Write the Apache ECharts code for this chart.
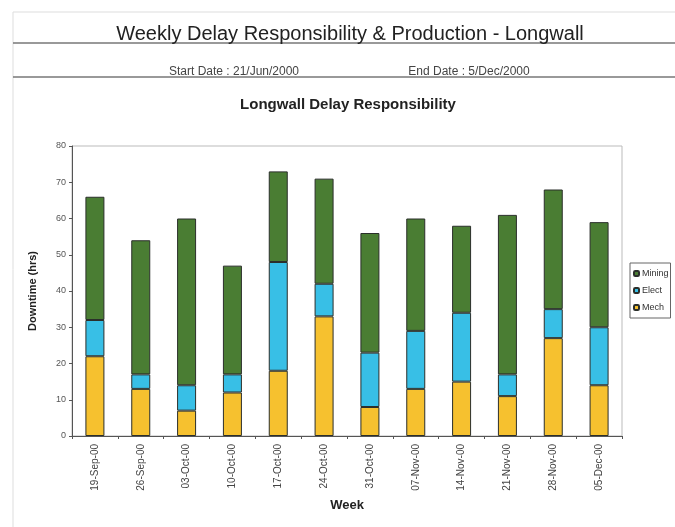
<!DOCTYPE html>
<html>
<head>
<meta charset="utf-8">
<script src="https://cdn.jsdelivr.net/npm/echarts@6/dist/echarts.min.js"></script>
<style>html,body{margin:0;padding:0;background:#fff}#c{width:675px;height:527px}</style>
</head>
<body>
<div id="c"></div>
<script>
const weeks = ['19-Sep-00','26-Sep-00','03-Oct-00','10-Oct-00','17-Oct-00','24-Oct-00','31-Oct-00','07-Nov-00','14-Nov-00','21-Nov-00','28-Nov-00','05-Dec-00'];
const mech = [22, 13, 7, 12, 18, 33, 8, 13, 15, 11, 27, 14];
const elect = [10, 4, 7, 5, 30, 9, 15, 16, 19, 6, 8, 16];
const mining = [34, 37, 46, 30, 25, 29, 33, 31, 24, 44, 33, 29];
const yTicks = [0, 10, 20, 30, 40, 50, 60, 70, 80];

const font = 'Liberation Sans, Arial, sans-serif';
const chart = echarts.init(document.getElementById('c'), null, {renderer: 'canvas'});
const barBorder = {borderColor: '#2b2f2b', borderWidth: 1};
chart.setOption({
  animation: false,
  backgroundColor: '#fff',
  textStyle: {fontFamily: font},
  title: [
    {text: 'Weekly Delay Responsibility & Production - Longwall', left: 345, top: 19, textAlign: 'center',
     textStyle: {fontSize: 20, fontWeight: 'normal', color: '#222', fontFamily: font}},
    {text: 'Start Date : 21/Jun/2000', left: 229, top: 61, textAlign: 'center',
     textStyle: {fontSize: 12, fontWeight: 'normal', color: '#444', fontFamily: font}},
    {text: 'End Date : 5/Dec/2000', left: 464, top: 61, textAlign: 'center',
     textStyle: {fontSize: 12, fontWeight: 'normal', color: '#444', fontFamily: font}},
    {text: 'Longwall Delay Responsibility', left: 343, top: 92, textAlign: 'center',
     textStyle: {fontSize: 15, fontWeight: 'bold', color: '#222', fontFamily: font}}
  ],
  graphic: [
    {type: 'line', shape: {x1: 13, y1: 12, x2: 675, y2: 12}, style: {stroke: '#ddd', lineWidth: 1}},
    {type: 'line', shape: {x1: 13, y1: 12, x2: 13, y2: 527}, style: {stroke: '#ddd', lineWidth: 1}},
    {type: 'line', shape: {x1: 13, y1: 43, x2: 675, y2: 43}, style: {stroke: '#777', lineWidth: 1.5}},
    {type: 'line', shape: {x1: 13, y1: 77, x2: 675, y2: 77}, style: {stroke: '#777', lineWidth: 1.5}}
  ],
  legend: {
    orient: 'vertical', left: 630, top: 263,
    data: ['Mining', 'Elect', 'Mech'],
    itemWidth: 5, itemHeight: 5, itemGap: 8,
    padding: [6, 2, 6, 3],
    borderColor: '#666', borderWidth: 1,
    textStyle: {fontSize: 9, color: '#333', padding: [0, 0, 0, -2]}
  },
  grid: {left: 72, top: 146, right: 53, bottom: 91, show: true, borderColor: '#bbb', borderWidth: 1},
  xAxis: {
    type: 'category', data: weeks,
    name: 'Week', nameLocation: 'middle', nameGap: 62,
    nameTextStyle: {fontSize: 13, fontWeight: 'bold', color: '#222'},
    axisLine: {lineStyle: {color: '#555'}},
    axisTick: {show: true, length: 3, lineStyle: {color: '#555'}},
    axisLabel: {rotate: 90, fontSize: 10, color: '#444', margin: 8}
  },
  yAxis: {
    type: 'value', min: yTicks[0], max: yTicks[yTicks.length - 1], interval: 10,
    name: 'Downtime (hrs)', nameLocation: 'middle', nameGap: 34,
    nameTextStyle: {fontSize: 11, fontWeight: 'bold', color: '#222'},
    axisLine: {show: true, lineStyle: {color: '#555'}},
    axisTick: {show: true, length: 3, lineStyle: {color: '#555'}},
    axisLabel: {fontSize: 9, color: '#555', margin: 6},
    splitLine: {show: false}
  },
  series: [
    {name: 'Mech', type: 'bar', stack: 'd', data: mech, barWidth: 19,
     itemStyle: Object.assign({color: '#f6c12f'}, barBorder)},
    {name: 'Elect', type: 'bar', stack: 'd', data: elect, barWidth: 19,
     itemStyle: Object.assign({color: '#38bfe6'}, barBorder)},
    {name: 'Mining', type: 'bar', stack: 'd', data: mining, barWidth: 19,
     itemStyle: Object.assign({color: '#4a7d33'}, barBorder)}
  ]
});
</script>
</body>
</html>
